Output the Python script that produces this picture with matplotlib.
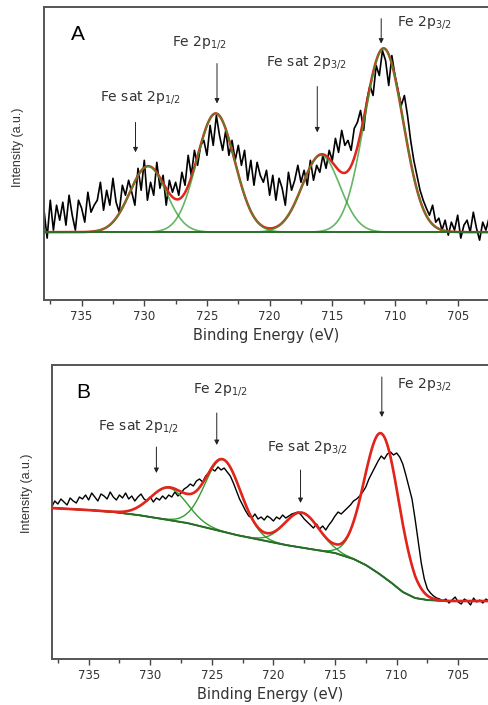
import numpy as np
import matplotlib.pyplot as plt

plt.rcParams['font.family'] = ['DejaVu Sans']
plt.rcParams['mathtext.fontset'] = 'dejavusans'

### DATA ###
# Binding energy grid of the measured spectra (0.25 eV steps, 738 -> 702.5 eV)
energy = np.linspace(738, 702.5, 143)

# Panel A: measured Fe 2p spectrum (a.u.)
spec_a = [90, 62, 100, 70, 95, 80,
          98, 75, 105, 85, 70, 100, 92, 78, 108, 88, 95,
          100, 118, 90, 110, 95, 122, 98, 88, 115, 105, 120,
          108, 95, 132, 110, 140, 100, 118, 105, 138,
          112, 125, 95, 120,
          108, 118, 105,
          128, 115, 145, 125, 150, 135, 155,
          160, 145, 175, 155, 185,
          165, 150, 170, 145, 160, 140, 155,
          135, 150, 120, 140, 115, 138, 125,
          118, 130, 105, 125, 100, 122, 112, 95, 128, 110, 120, 135, 118,
          130, 115, 140, 120, 135, 128, 145, 132,
          150, 140, 162, 148, 170, 155, 160, 150, 172,
          178, 190, 170, 200,
          215, 205, 235, 225, 250,
          240, 215, 245, 225,
          210, 195, 205, 185,
          160, 140, 125, 110, 100,
          92, 85, 95, 78, 82, 70, 80,
          65, 78, 70, 85, 62, 75, 80, 68, 88, 72, 60, 78, 70, 82]

# Panel B: measured Fe 2p spectrum (a.u.)
spec_b = [152, 158, 155, 160, 157, 154, 161, 158, 156, 162,
          160, 164, 159, 166, 162, 158, 165, 163, 160, 167, 162, 159, 164, 161, 166, 160, 163, 158, 162, 165, 160,
          158, 162, 157, 161, 159, 163, 160,
          164, 162, 167, 163, 166, 170,
          172, 175, 173, 178, 180, 177, 183,
          186, 190, 188, 192, 189, 191, 187,
          183, 176, 168, 160, 154, 148,
          143, 141, 145, 140, 142, 139, 143, 141, 138, 142, 140, 144, 141, 143, 145, 146,
          147, 144, 140, 137,
          134, 131, 135, 130, 133, 129, 134, 138,
          143, 147, 145,
          148, 151, 154, 158, 160, 163, 167, 172,
          180, 186, 192, 198, 203, 200,
          205, 207, 204, 206, 202,
          195, 184, 172, 160,
          140, 118, 96, 80, 70,
          66, 63, 61, 60,
          58, 60, 56, 59, 62, 57, 55, 60, 58, 54, 61, 57, 59, 56, 60, 58]

# Fitted components: Fe sat 2p1/2, Fe 2p1/2, Fe sat 2p3/2, Fe 2p3/2
peak_names = ['Fe sat 2p$_{\\mathregular{1/2}}$', 'Fe 2p$_{\\mathregular{1/2}}$',
              'Fe sat 2p$_{\\mathregular{3/2}}$', 'Fe 2p$_{\\mathregular{3/2}}$']
center_a = [729.7, 724.3, 715.9, 710.9]
height_a = [66, 119, 77, 184]
sigma_a = [1.45, 1.5, 1.5, 1.55]
baseline_a = 68

center_b = [728.5, 724.1, 717.7, 711.2]
height_b = [32, 72, 35, 142]
sigma_b = [1.5, 1.45, 1.4, 1.4]

# Panel B Shirley-type background
bg_energy_b = [738, 735, 733, 731, 729, 727, 725, 723, 721, 719, 717, 715,
               713.5, 712.5, 711.5, 710.5, 709.5, 708.5, 707.5, 706, 702.5]
bg_b = [151, 149, 147, 144, 140, 136, 130, 124, 119, 114, 110, 106,
        100, 94, 86, 77, 67, 61, 59, 58, 58]

# Arrows (energy, top, bottom) and label positions (energy, intensity)
arrow_a = [(730.7, 178, 148), (724.2, 237, 197), (716.2, 214, 168), (711.1, 282, 257)]
label_a = [(733.5, 203), (727.8, 258), (720.3, 238), (709.8, 278)]
arrow_b = [(729.5, 212, 186), (724.6, 246, 214), (717.8, 189, 156), (711.2, 282, 242)]
label_b = [(734.2, 232), (726.5, 269), (720.5, 211), (710.0, 274)]

RED = '#e3241b'
GREEN = '#2f9e2f'
DARK_GREEN = '#2c6b2c'
GRID = np.linspace(738, 702.5, 800)


def gauss(x, c, h, s):
    return h * np.exp(-(x - c) ** 2 / (2 * s ** 2))


def style_axes(ax):
    ax.set_xlim(738, 702.5)
    ax.set_ylim(0, 294)
    ax.set_yticks([])
    ax.set_xticks([735, 730, 725, 720, 715, 710, 705])
    ax.set_xticks(np.arange(737.5, 702, -5), minor=True)
    ax.tick_params(axis='x', which='major', direction='out', length=4, width=1,
                   labelsize=8.5, labelcolor='#333333', color='#444444', pad=3)
    ax.tick_params(axis='x', which='minor', direction='out', length=3, width=1,
                   color='#444444')
    ax.spines['right'].set_visible(False)
    for side in ['top', 'left', 'bottom']:
        ax.spines[side].set_color('#555555')
        ax.spines[side].set_linewidth(1.4)
    ax.set_xlabel('Binding Energy (eV)', fontsize=10.5, color='#333333', labelpad=4)


def annotate(ax, arrows, labels):
    for name, (e, y0, y1), (lx, ly) in zip(peak_names, arrows, labels):
        ax.annotate('', xy=(e, y1), xytext=(e, y0),
                    arrowprops=dict(arrowstyle='-|>', lw=0.7, color='#222222',
                                    mutation_scale=7, shrinkA=0, shrinkB=0))
        ax.text(lx, ly, name, fontsize=10, color='#333333', ha='left', va='center')


fig = plt.figure(figsize=(4.89, 7.05), dpi=100)

### PANEL A ###
ax_a = fig.add_axes([0.09, 0.5745, 0.91, 0.416])
comps_a = [baseline_a + gauss(GRID, c, h, s) for c, h, s in zip(center_a, height_a, sigma_a)]
env_a = baseline_a + sum(gauss(GRID, c, h, s) for c, h, s in zip(center_a, height_a, sigma_a))
ax_a.plot(energy, spec_a, color='black', lw=1.2, zorder=2)
ax_a.plot(GRID, env_a, color=RED, lw=1.8, zorder=3)
for comp in comps_a:
    ax_a.plot(GRID, comp, color=GREEN, lw=1.2, alpha=0.75, zorder=4)
ax_a.axhline(baseline_a, color=DARK_GREEN, lw=1.3, zorder=4)
annotate(ax_a, arrow_a, label_a)
ax_a.text(735.3, 266, 'A', fontsize=15, ha='center', va='center',
          family='Liberation Sans')
style_axes(ax_a)

### PANEL B ###
ax_b = fig.add_axes([0.1057, 0.0652, 0.8943, 0.4171])
bg_grid = np.interp(GRID[::-1], bg_energy_b[::-1], bg_b[::-1])[::-1]
comps_b = [bg_grid + gauss(GRID, c, h, s) for c, h, s in zip(center_b, height_b, sigma_b)]
env_b = bg_grid + sum(gauss(GRID, c, h, s) for c, h, s in zip(center_b, height_b, sigma_b))
ax_b.plot(energy, spec_b, color='black', lw=1.0, zorder=2)
for comp in comps_b:
    ax_b.plot(GRID, comp, color=GREEN, lw=1.0, zorder=3)
ax_b.plot(bg_energy_b, bg_b, color=DARK_GREEN, lw=1.4, zorder=3)
ax_b.plot(GRID, env_b, color=RED, lw=1.9, zorder=4)
annotate(ax_b, arrow_b, label_b)
ax_b.text(735.4, 266, 'B', fontsize=15, ha='center', va='center',
          family='Liberation Sans')
style_axes(ax_b)

# y labels placed by hand like the original figure
fig.text(18 / 489, 1 - 147 / 705, 'Intensity (a.u.)', rotation=90, fontsize=9,
         color='#333333', ha='center', va='center', family='Liberation Sans')
fig.text(27 / 489, 1 - 493 / 705, 'Intensity (a.u.)', rotation=90, fontsize=9,
         color='#333333', ha='center', va='center', family='Liberation Sans')

fig.savefig('out.png', dpi=100)
